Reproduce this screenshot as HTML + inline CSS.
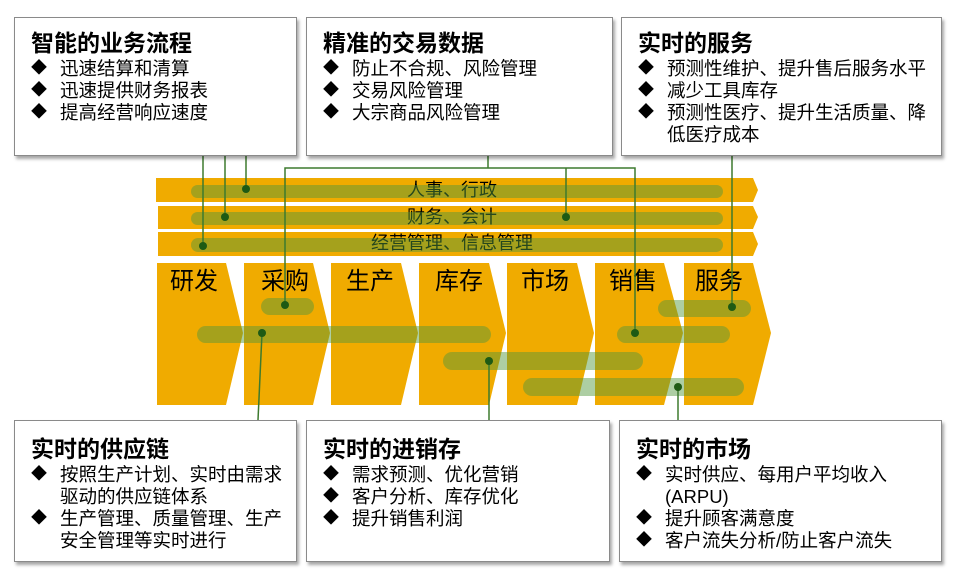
<!DOCTYPE html>
<html><head><meta charset="utf-8"><style>
body{margin:0;width:964px;height:584px;background:#fff;position:relative;overflow:hidden;font-family:"Liberation Sans","Noto Sans CJK SC",sans-serif;}
.box{position:absolute;background:#fff;border:1px solid #8a8a8a;box-shadow:2px 3px 3px rgba(0,0,0,0.35);box-sizing:border-box;}
.box h3{margin:0;position:absolute;left:16px;font-size:23px;font-weight:bold;color:#000;line-height:26px;white-space:nowrap;}
.box ul{margin:0;padding:0;list-style:none;position:absolute;left:16px;right:4px;font-size:18.5px;line-height:22px;color:#000;}
.box li{position:relative;padding-left:29px;}
.box li:before{content:"◆";position:absolute;left:0;top:0;font-size:16px;}
svg{position:absolute;left:0;top:0;}
</style></head><body>
<svg width="964" height="584">
<g fill="#f0ab00">
<polygon points="156,178 753,178 758,190 753,202 156,202"/>
<polygon points="158,206 753,206 758,217 753,229 158,229"/>
<polygon points="158,232 753,232 758,244 753,256 158,256"/>
<polygon points="157,263 226,263 243,333 226,405 157,405"/>
<polygon points="244,263 313,263 330,333 313,405 244,405"/>
<polygon points="331,263 401,263 418,333 401,405 331,405"/>
<polygon points="419,263 489,263 506,333 489,405 419,405"/>
<polygon points="507,263 577,263 594,333 577,405 507,405"/>
<polygon points="595,263 664,263 683,333 664,405 595,405"/>
<polygon points="684,263 753,263 771,333 753,405 684,405"/>
</g>
<g fill="#000" font-size="18" text-anchor="middle" font-family="Liberation Sans,Noto Sans CJK SC,sans-serif">
<text x="452" y="196">人事、行政</text>
<text x="452" y="223">财务、会计</text>
<text x="452" y="249">经营管理、信息管理</text>
</g>
<g fill="#000" font-size="24" font-family="Liberation Sans,Noto Sans CJK SC,sans-serif">
<text x="170" y="289">研发</text>
<text x="261" y="289">采购</text>
<text x="346" y="289">生产</text>
<text x="435" y="289">库存</text>
<text x="521" y="289">市场</text>
<text x="609" y="289">销售</text>
<text x="695" y="289">服务</text>
</g>
<g fill="rgb(80,150,60)" fill-opacity="0.47">
<rect x="191" y="185" width="532" height="13" rx="6.5"/>
<rect x="191" y="212" width="532" height="13" rx="6.5"/>
<rect x="191" y="238" width="532" height="14" rx="7"/>
<rect x="261" y="298" width="53" height="17" rx="8.5"/>
<rect x="197" y="326" width="294" height="17" rx="8.5"/>
<rect x="617" y="326" width="113" height="17" rx="8.5"/>
<rect x="658" y="300" width="93" height="17" rx="8.5"/>
<rect x="443" y="352" width="200" height="18" rx="9"/>
<rect x="523" y="378" width="221" height="18" rx="9"/>
</g>
<g stroke="#3d7a2e" stroke-width="1.5" fill="none">
<line x1="203" y1="156" x2="203" y2="246"/>
<line x1="225" y1="156" x2="225" y2="217"/>
<line x1="246" y1="156" x2="246" y2="189"/>
<polyline points="488,156 488,168"/>
<polyline points="285,305 285,168 635,168 635,333"/>
<line x1="566" y1="168" x2="566" y2="217"/>
<line x1="732" y1="156" x2="732" y2="307"/>
<line x1="262" y1="333" x2="258" y2="420"/>
<line x1="489" y1="361" x2="489" y2="420"/>
<line x1="678" y1="387" x2="678" y2="420"/>
</g>
<g fill="#1e5a14">
<circle cx="246" cy="189" r="4"/><circle cx="225" cy="217" r="4"/><circle cx="566" cy="217" r="4"/>
<circle cx="203" cy="246" r="4"/><circle cx="285" cy="305" r="4"/><circle cx="262" cy="333" r="4"/>
<circle cx="635" cy="333" r="4"/><circle cx="732" cy="307" r="4"/><circle cx="489" cy="361" r="4"/>
<circle cx="678" cy="387" r="4"/>
</g>
</svg>

<div class="box" style="left:14px;top:17px;width:283px;height:139px;">
<h3 style="top:12px">智能的业务流程</h3>
<ul style="top:40px"><li>迅速结算和清算</li><li>迅速提供财务报表</li><li>提高经营响应速度</li></ul></div>
<div class="box" style="left:306px;top:17px;width:307px;height:139px;">
<h3 style="top:12px">精准的交易数据</h3>
<ul style="top:40px"><li>防止不合规、风险管理</li><li>交易风险管理</li><li>大宗商品风险管理</li></ul></div>
<div class="box" style="left:621px;top:17px;width:321px;height:139px;">
<h3 style="top:12px">实时的服务</h3>
<ul style="top:40px"><li>预测性维护、提升售后服务水平</li><li>减少工具库存</li><li>预测性医疗、提升生活质量、降低医疗成本</li></ul></div>

<div class="box" style="left:14px;top:420px;width:283px;height:142px;">
<h3 style="top:15px">实时的供应链</h3>
<ul style="top:43px"><li>按照生产计划、实时由需求驱动的供应链体系</li><li>生产管理、质量管理、生产安全管理等实时进行</li></ul></div>
<div class="box" style="left:306px;top:420px;width:304px;height:142px;">
<h3 style="top:15px">实时的进销存</h3>
<ul style="top:43px"><li>需求预测、优化营销</li><li>客户分析、库存优化</li><li>提升销售利润</li></ul></div>
<div class="box" style="left:619px;top:420px;width:323px;height:142px;">
<h3 style="top:15px">实时的市场</h3>
<ul style="top:43px"><li>实时供应、每用户平均收入<br>(ARPU)</li><li>提升顾客满意度</li><li>客户流失分析/防止客户流失</li></ul></div>
</body></html>
